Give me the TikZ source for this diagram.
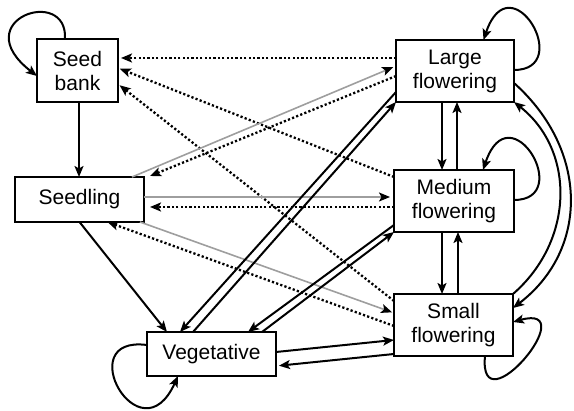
\documentclass[tikz,border=0pt]{standalone}
\usepackage{fontspec}
\setmainfont{Liberation Sans}
\usetikzlibrary{arrows.meta}
\begin{document}
\begin{tikzpicture}[x=1pt,y=-1pt,
  box/.style={draw, line width=1.6pt, rectangle, inner sep=0pt, outer sep=0pt, align=center, font=\fontsize{21}{24}\selectfont},
  arr/.style={line width=2pt, -{Stealth[length=11pt,width=9pt,inset=2.5pt]}},
  dotarr/.style={arr, line width=2.3pt, dash pattern=on 2.2pt off 2.2pt},
  grayarr/.style={line width=1.6pt, draw=black!38, -{Stealth[length=11pt,width=9pt,inset=2.5pt,color=black]}}
]
\useasboundingbox (0,0) rectangle (574,411);

\node[box, minimum width=81pt, minimum height=63pt] (sb) at (77.5,70.5) {Seed\\bank};
\node[box, minimum width=129pt, minimum height=45pt] (sl) at (79.5,199.5) {Seedling};
\node[box, minimum width=118pt, minimum height=62pt] (lf) at (455,71) {Large\\flowering};
\node[box, minimum width=120pt, minimum height=62pt] (mf) at (454,201) {Medium\\flowering};
\node[box, minimum width=119pt, minimum height=62pt] (smf) at (453.5,325) {Small\\flowering};
\node[box, minimum width=129pt, minimum height=44pt] (veg) at (211.5,354) {Vegetative};

% self loops
\draw[arr] ([xshift=-12.5pt]sb.north) .. controls +(3,-54) and +(-72,-56) .. ([yshift=-5.5pt]sb.west);
\draw[arr] ([yshift=9pt]veg.west) .. controls +(-77,-10) and +(-38,84) .. ([xshift=31pt]veg.south west);
\draw[arr] ([yshift=1pt]lf.east) .. controls +(61,0) and +(27,-80) .. ([xshift=28.5pt]lf.north);
\draw[arr] ([yshift=1pt]mf.east) .. controls +(61,0) and +(27,-80) .. ([xshift=29pt]mf.north);
\draw[arr] ([xshift=31.5pt]smf.south) .. controls +(-7,74) and +(72,-20) .. ([yshift=3pt]smf.east);

% seed bank -> seedling
\draw[arr] ([xshift=1.5pt]sb.south) -- ([xshift=1.5pt]sb.south |- sl.north);

% dotted to seed bank
\draw[dotarr, shorten >=3pt] ([yshift=13pt]lf.west) -- ([yshift=13pt]lf.west -| sb.east);
\draw[dotarr, shorten >=2pt] ([yshift=24pt]mf.west) -- ([yshift=2.5pt]sb.east);
\draw[dotarr, shorten >=2pt] ([yshift=24pt]smf.west) -- ([yshift=-13.5pt]sb.east);

% seedling links
\draw[dotarr] ([yshift=-5pt]lf.west) -- ([xshift=6pt,yshift=1pt]sl.north east);
\draw[grayarr, shorten >=3pt] ([xshift=-12pt]sl.north east) -- ([yshift=5pt]lf.west);
\draw[grayarr, shorten >=4pt] ([yshift=2.5pt]sl.east) -- ([yshift=2.5pt]sl.east -| mf.west);
\draw[dotarr, shorten >=6pt] ([yshift=-6pt]mf.west) -- ([yshift=-6pt]mf.west -| sl.east);
\draw[dotarr] ([yshift=-1pt]smf.west) -- ([xshift=28pt]sl.south);
\draw[grayarr, shorten >=2pt] ([xshift=-4pt]sl.south east) -- ([yshift=12pt]smf.west);
\draw[arr] (sl.south) -- ([xshift=20pt]veg.north west);

% vegetative links
\draw[arr] ([yshift=-21pt]lf.west) -- ([xshift=33pt]veg.north west);
\draw[arr] ([xshift=46pt]veg.north west) -- (lf.south west);
\draw[arr] ([yshift=-24pt]mf.west) -- ([xshift=-28pt]veg.north east);
\draw[arr] ([xshift=-14pt]veg.north east) -- (mf.south west);
\draw[arr] ([yshift=2pt]veg.east) -- ([yshift=-15pt]smf.west);
\draw[arr, shorten >=3pt] ([yshift=2pt]smf.south west) -- ([yshift=-12pt]veg.east);

% flowering verticals
\draw[arr] ([xshift=-13pt]lf.south) -- ([xshift=-13pt]lf.south |- mf.north);
\draw[arr] ([xshift=3pt]mf.north) -- ([xshift=3pt]mf.north |- lf.south);
\draw[arr] ([xshift=-12pt]mf.south) -- ([xshift=-12pt]mf.south |- smf.north);
\draw[arr] ([xshift=4.5pt]smf.north) -- ([xshift=4.5pt]smf.north |- mf.south);

% large <-> small curves
\draw[arr] ([yshift=-12pt]lf.east) .. controls +(75,67) and +(76,-58) .. ([yshift=17pt]smf.east);
\draw[arr] (smf.north east) .. controls +(62,-54) and +(61,48) .. (lf.south east);
\end{tikzpicture}
\end{document}
